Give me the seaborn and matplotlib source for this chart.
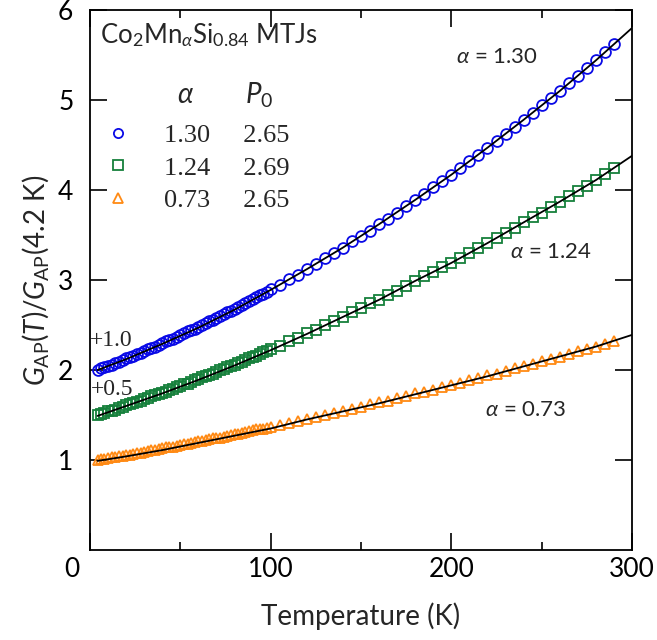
import matplotlib
matplotlib.use("Agg")
import matplotlib.pyplot as plt
import matplotlib.transforms as mtransforms
import pandas as pd
import seaborn as sns
from matplotlib.ticker import MultipleLocator

# Measurement temperatures (K): dense sweep below 100 K, 5 K steps above
temps_low = [4.2, 6, 8, 10, 12, 14, 16, 18, 20, 22, 24, 26, 28, 30, 32, 34, 36, 38,
             40, 42, 44, 46, 48, 50, 52, 54, 56, 58, 60, 62, 64, 66, 68, 70, 72, 74,
             76, 78, 80, 82, 84, 86, 88, 90, 92, 94, 96, 98, 100]
temps_high = [105, 110, 115, 120, 125, 130, 135, 140, 145, 150, 155, 160, 165, 170,
              175, 180, 185, 190, 195, 200, 205, 210, 215, 220, 225, 230, 235, 240,
              245, 250, 255, 260, 265, 270, 275, 280, 285, 290]

# Normalized AP conductance (alpha = 1.30 shifted by +1.0, alpha = 1.24 by +0.5)
g_130 = [2.00, 2.02, 2.03, 2.05, 2.06, 2.08, 2.09, 2.11, 2.13, 2.14, 2.16, 2.18, 2.19,
         2.21, 2.23, 2.25, 2.26, 2.28, 2.30, 2.32, 2.33, 2.35, 2.37, 2.39, 2.41, 2.43,
         2.44, 2.46, 2.48, 2.50, 2.52, 2.54, 2.56, 2.58, 2.60, 2.62, 2.64, 2.66, 2.68,
         2.70, 2.72, 2.74, 2.77, 2.79, 2.81, 2.83, 2.85, 2.87, 2.90,
         2.95, 3.01, 3.06, 3.12, 3.18, 3.24, 3.30, 3.36, 3.43, 3.49, 3.55, 3.62, 3.68,
         3.75, 3.82, 3.89, 3.96, 4.03, 4.10, 4.17, 4.24, 4.32, 4.39, 4.47, 4.54, 4.62,
         4.70, 4.78, 4.86, 4.94, 5.02, 5.10, 5.19, 5.27, 5.36, 5.44, 5.53, 5.62]
g_124 = [1.50, 1.51, 1.52, 1.54, 1.55, 1.56, 1.58, 1.59, 1.61, 1.62, 1.63, 1.65, 1.66,
         1.68, 1.69, 1.71, 1.72, 1.73, 1.75, 1.76, 1.78, 1.79, 1.81, 1.82, 1.84, 1.85,
         1.87, 1.89, 1.90, 1.92, 1.93, 1.95, 1.96, 1.98, 2.00, 2.01, 2.03, 2.04, 2.06,
         2.08, 2.09, 2.11, 2.13, 2.14, 2.16, 2.18, 2.20, 2.21, 2.23,
         2.27, 2.32, 2.36, 2.41, 2.45, 2.50, 2.54, 2.59, 2.64, 2.69, 2.74, 2.78, 2.83,
         2.88, 2.93, 2.99, 3.04, 3.09, 3.14, 3.19, 3.25, 3.30, 3.36, 3.41, 3.47, 3.52,
         3.58, 3.64, 3.70, 3.75, 3.81, 3.87, 3.93, 3.99, 4.05, 4.11, 4.18, 4.24]
g_073 = [1.00, 1.01, 1.01, 1.02, 1.03, 1.03, 1.04, 1.05, 1.06, 1.06, 1.07, 1.08, 1.08,
         1.09, 1.10, 1.11, 1.11, 1.12, 1.13, 1.14, 1.14, 1.15, 1.16, 1.17, 1.18, 1.18,
         1.19, 1.20, 1.21, 1.21, 1.22, 1.23, 1.24, 1.25, 1.25, 1.26, 1.27, 1.28, 1.29,
         1.29, 1.30, 1.31, 1.32, 1.33, 1.34, 1.34, 1.35, 1.36, 1.37,
         1.39, 1.41, 1.43, 1.46, 1.48, 1.50, 1.52, 1.55, 1.57, 1.59, 1.62, 1.64, 1.66,
         1.69, 1.71, 1.74, 1.76, 1.78, 1.81, 1.83, 1.86, 1.89, 1.91, 1.94, 1.96, 1.99,
         2.02, 2.04, 2.07, 2.10, 2.12, 2.15, 2.18, 2.21, 2.23, 2.26, 2.29, 2.32]

# Model fits
fit_T = [4.2, 20, 40, 60, 80, 100, 120, 140, 160, 180, 200, 220, 240, 260, 280, 300]
fit_130 = [2.00, 2.12, 2.29, 2.47, 2.67, 2.89, 3.12, 3.36, 3.62, 3.89, 4.17, 4.47,
           4.78, 5.10, 5.44, 5.80]
fit_124 = [1.49, 1.60, 1.74, 1.89, 2.05, 2.22, 2.40, 2.59, 2.78, 2.99, 3.19, 3.41,
           3.64, 3.87, 4.11, 4.38]
fit_073 = [0.99, 1.04, 1.11, 1.19, 1.27, 1.35, 1.45, 1.54, 1.63, 1.73, 1.83, 1.93,
           2.04, 2.15, 2.26, 2.39]

alphas = ["1.30", "1.24", "0.73"]
p0_values = ["2.65", "2.69", "2.65"]
offset_labels = ["+1.0", "+0.5"]
x_ticks = [0, 100, 200, 300]
y_ticks = [1, 2, 3, 4, 5, 6]

temps = temps_low + temps_high
series = [
    (g_130, fit_130, "o", "#0a0ae6"),
    (g_124, fit_124, "s", "#16803c"),
    (g_073, fit_073, "^", "#ff8a14"),
]

sns.set_theme(style="ticks")
plt.rcParams["font.family"] = ["Lato", "DejaVu Sans"]
plt.rcParams["mathtext.fontset"] = "custom"
plt.rcParams["mathtext.rm"] = "Lato"
plt.rcParams["mathtext.it"] = "Lato:italic"
plt.rcParams["mathtext.bf"] = "Lato:bold"

fig = plt.figure(figsize=(6.57, 6.40), dpi=100)
ax = fig.add_axes([90 / 657, 90 / 640, 542 / 657, 540 / 640])

for (vals, fit, mk, col), a, p in zip(series, alphas, p0_values):
    df = pd.DataFrame({"T": temps, "G": vals})
    sns.lineplot(data=df, x="T", y="G", ax=ax, estimator=None, sort=False,
                 linestyle="none", marker=mk, markersize=7.8,
                 markerfacecolor="none", markeredgecolor=col,
                 markeredgewidth=1.3, color=col, label=f"{a}     {p}")

for (vals, fit, mk, col) in series:
    dfit = pd.DataFrame({"T": fit_T, "G": fit})
    sns.lineplot(data=dfit, x="T", y="G", ax=ax, estimator=None, sort=False,
                 color="black", linewidth=1.3)

ax.set_xlim(0, 300)
ax.set_ylim(0, 6)
ax.set_xticks(x_ticks)
ax.xaxis.set_minor_locator(MultipleLocator(50))
ax.set_yticks(y_ticks)
ax.tick_params(which="both", direction="in", top=True, right=True, width=1.2,
               labelsize=19, colors="black")
ax.tick_params(axis="x", which="major", length=12, pad=5)
ax.tick_params(axis="x", which="minor", length=6)
ax.tick_params(axis="y", which="major", length=12, pad=12)
for s in ax.spines.values():
    s.set_linewidth(1.3)
    s.set_color("black")

ax.set_xlabel("Temperature (K)", fontsize=20)
ax.set_ylabel(r"$G_{\mathrm{AP}}(T)/G_{\mathrm{AP}}$(4.2 K)", fontsize=20)
ax.xaxis.set_label_coords(0.5, (550 - 616) / 540)
ax.xaxis.label.set_va("center")
ax.yaxis.set_label_coords(-0.101, 0.5)
ax.yaxis.label.set_va("center")

# The corner "0" sits a little left of the origin
zero_label = ax.xaxis.get_major_ticks()[0].label1
zero_label.set_transform(zero_label.get_transform() +
                         mtransforms.ScaledTranslation(-18 / 100, 0, fig.dpi_scale_trans))

# Legend table: marker, alpha, P0
handles, labels = ax.get_legend_handles_labels()
leg = ax.legend(handles[:3], labels[:3], loc="upper left",
                bbox_to_anchor=((105 - 90) / 542, (550 - 124) / 540),
                frameon=False, handlelength=1.0, handletextpad=1.25,
                labelspacing=0.33, borderpad=0, borderaxespad=0,
                markerscale=0.85,
                prop={"family": "Liberation Serif", "size": 19})

ax.text((100 - 90) / 542, (550 - 35) / 540, r"Co$_2$Mn$_\alpha$Si$_{0.84}$ MTJs",
        transform=ax.transAxes, fontsize=18.5, ha="left", va="center")
ax.text((185 - 90) / 542, (550 - 95) / 540, r"$\alpha$", transform=ax.transAxes,
        fontsize=20, ha="center", va="center")
ax.text((259 - 90) / 542, (550 - 95) / 540, r"$P_0$", transform=ax.transAxes,
        fontsize=20, ha="center", va="center")

# Offset markers for shifted curves
ax.text(12, 2.33, offset_labels[0], fontsize=17, family="Liberation Serif",
        ha="center", va="center")
ax.text(12, 1.78, offset_labels[1], fontsize=17, family="Liberation Serif",
        ha="center", va="center")

# Curve labels
ax.text(225, 5.48, r"$\alpha$ = " + alphas[0], fontsize=16, ha="center", va="center")
ax.text(255, 3.31, r"$\alpha$ = " + alphas[1], fontsize=16, ha="center", va="center")
ax.text(241, 1.56, r"$\alpha$ = " + alphas[2], fontsize=16, ha="center", va="center")

fig.savefig("out.png", dpi=100)
